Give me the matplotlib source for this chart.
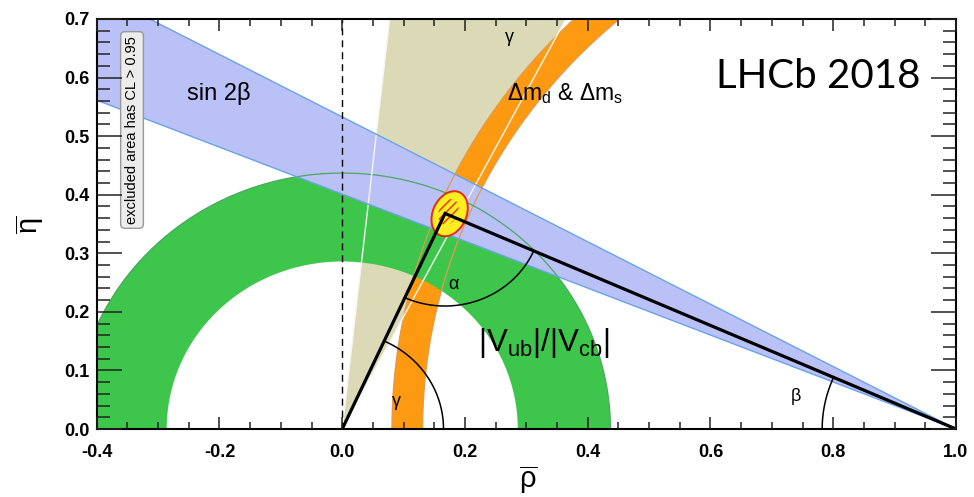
import numpy as np
import matplotlib
matplotlib.use("Agg")
import matplotlib.pyplot as plt
from matplotlib.patches import Wedge, Ellipse
from matplotlib.ticker import FixedLocator, FixedFormatter, MultipleLocator

plt.rcParams["font.family"] = ["Liberation Sans", "DejaVu Sans"]
plt.rcParams["hatch.linewidth"] = 1.1

# --- CKM constraints (95% CL) in the (rho-bar, eta-bar) plane ---
apex = (0.1675, 0.368)              # unitarity triangle apex from the global fit
sin2beta_deg = [21.85, 28.05]       # beta range, angle seen from (1, 0)
gamma_deg = [62.5, 83.7]            # gamma range, angle seen from (0, 0)
dm_center = 1.055                   # centre of the Delta m_d & Delta m_s ring on the rho axis
dm_radius = [0.924, 0.974]          # ring radii
vub_radius = [0.286, 0.437]         # R_u band from |Vub|/|Vcb|, about (0, 0)

fit_center = (0.175, 0.3675)
fit_95 = (0.080, 0.055)             # full axes of the 95% CL region
fit_68 = (0.046, 0.031)             # full axes of the 68% CL region
fit_tilt = 68.0

arc_radius = {"gamma": 0.165, "alpha": 0.158, "beta": 0.218}

x_ticks = [-0.4, -0.2, 0.0, 0.2, 0.4, 0.6, 0.8, 1.0]
x_tick_labels = ["-0.4", "-0.2", "0.0", "0.2", "0.4", "0.6", "0.8", "1.0"]
y_ticks = [0.0, 0.1, 0.2, 0.3, 0.4, 0.5, 0.6, 0.7]
y_tick_labels = ["0.0", "0.1", "0.2", "0.3", "0.4", "0.5", "0.6", "0.7"]

BLUE = "#bac1f7"
BLUE_EDGE = "#6aa3e8"
BEIGE = "#dcd9b6"
ORANGE = "#fd9a12"
ORANGE_EDGE = "#e39a4a"
GREEN = "#3ec64c"
GREEN_EDGE = "#4aa860"
GAMMA_EDGE = "#f6f6f0"

fig = plt.figure(figsize=(9.74, 4.97), dpi=100)
ax = fig.add_axes([0.0993, 0.1368, 0.8822, 0.825])
ax.set_xlim(-0.4, 1.0)
ax.set_ylim(0.0, 0.7)

# filled constraint regions
ax.add_patch(Wedge((0, 0), 2.0, gamma_deg[0], gamma_deg[1],
                   facecolor=BEIGE, edgecolor="none", zorder=1.0))
ax.add_patch(Wedge((dm_center, 0), dm_radius[1], 90, 180, width=dm_radius[1] - dm_radius[0],
                   facecolor=ORANGE, edgecolor="none", zorder=1.1))
ax.add_patch(Wedge((0, 0), vub_radius[1], 0, 180, width=vub_radius[1] - vub_radius[0],
                   facecolor=GREEN, edgecolor="none", zorder=1.2))
ax.add_patch(Wedge((1, 0), 3.0, 180 - sin2beta_deg[1], 180 - sin2beta_deg[0],
                   facecolor=BLUE, edgecolor="none", zorder=1.3))

# region outlines
th = np.linspace(0, np.pi, 600)
for r in dm_radius:
    m = th >= np.pi / 2
    ax.plot(dm_center + r * np.cos(th[m]), r * np.sin(th[m]), color=ORANGE_EDGE, lw=0.9, zorder=1.5)
ax.plot(vub_radius[1] * np.cos(th), vub_radius[1] * np.sin(th), color=GREEN_EDGE, lw=0.9, zorder=1.5)
for a in gamma_deg:
    t = np.radians(a)
    ax.plot([0, 2 * np.cos(t)], [0, 2 * np.sin(t)], color=GAMMA_EDGE, lw=1.0, zorder=1.6)
for a in sin2beta_deg:
    t = np.radians(a)
    ax.plot([1, 1 - 3 * np.cos(t)], [0, 3 * np.sin(t)], color=BLUE_EDGE, lw=1.0, zorder=1.7)

# rho = 0 reference line
ax.plot([0, 0], [0, 0.7], color="black", lw=1.0, dashes=(5, 3.6), zorder=2.0)

# global fit region
ax.add_patch(Ellipse(fit_center, fit_95[0], fit_95[1], angle=fit_tilt,
                     facecolor="#ffee22", edgecolor="#e52a18", lw=1.4, zorder=3.0))
ax.add_patch(Ellipse((fit_center[0] - 0.002, fit_center[1] + 0.003), fit_68[0], fit_68[1],
                     angle=fit_tilt, fill=False, hatch="////", edgecolor="#e2401c",
                     lw=0, zorder=3.1))

# unitarity triangle
ax.plot([0, apex[0], 1], [0, apex[1], 0], color="black", lw=2.3,
        solid_joinstyle="miter", zorder=4.0)

# angle arcs
ang_g = np.arctan2(apex[1], apex[0])
ang_b = np.arctan2(apex[1], 1 - apex[0])
t = np.linspace(0, ang_g, 100)
ax.plot(arc_radius["gamma"] * np.cos(t), arc_radius["gamma"] * np.sin(t), color="black", lw=1.1, zorder=4.0)
t = np.linspace(np.pi + ang_g, 2 * np.pi - ang_b, 100)
ax.plot(apex[0] + arc_radius["alpha"] * np.cos(t), apex[1] + arc_radius["alpha"] * np.sin(t),
        color="black", lw=1.1, zorder=4.0)
t = np.linspace(np.pi - ang_b, np.pi, 100)
ax.plot(1 + arc_radius["beta"] * np.cos(t), arc_radius["beta"] * np.sin(t), color="black", lw=1.1, zorder=4.0)

# labels inside the plot
ax.text(-0.2535, 0.572, "sin 2β", fontsize=17, ha="left", va="center", zorder=5)
ax.text(0.273, 0.668, "γ", fontsize=13, ha="center", va="center", zorder=5)
ax.text(0.268, 0.572, r"Δm$_\mathregular{d}$ & Δm$_\mathregular{s}$", fontsize=16.5,
        ha="left", va="center", zorder=5)
ax.text(0.221, 0.147, r"|V$_\mathregular{ub}$|/|V$_\mathregular{cb}$|", fontsize=22.5,
        ha="left", va="center", zorder=5)
ax.text(0.181, 0.246, "α", fontsize=13, ha="center", va="center", zorder=5)
ax.text(0.0888, 0.0466, "γ", fontsize=13, ha="center", va="center", zorder=5)
ax.text(0.740, 0.055, "β", fontsize=13, ha="center", va="center", zorder=5)
ax.text(0.609, 0.601, "LHCb 2018", fontsize=29, family=["Lato", "DejaVu Sans"],
        ha="left", va="center", zorder=5)
ax.text(-0.3425, 0.5105, "excluded area has CL > 0.95", fontsize=10.5, rotation=90,
        ha="center", va="center", zorder=6,
        bbox=dict(boxstyle="round,pad=0.3", facecolor="#ececec", edgecolor="#999999", lw=1.0))

# axes styling
ax.xaxis.set_major_locator(FixedLocator(x_ticks))
ax.xaxis.set_major_formatter(FixedFormatter(x_tick_labels))
ax.xaxis.set_minor_locator(MultipleLocator(0.05))
ax.yaxis.set_major_locator(FixedLocator(y_ticks))
ax.yaxis.set_major_formatter(FixedFormatter(y_tick_labels))
ax.yaxis.set_minor_locator(MultipleLocator(0.02))
ax.tick_params(which="both", direction="in", top=True, right=True, width=1.1, color="#222222")
ax.tick_params(axis="x", which="major", length=8.6, pad=11)
ax.tick_params(axis="x", which="minor", length=4.7)
ax.tick_params(axis="y", which="major", length=18, pad=5)
ax.tick_params(axis="y", which="minor", length=9.4)
for lab in ax.get_xticklabels() + ax.get_yticklabels():
    lab.set_fontweight("bold")
    lab.set_fontsize(13)
for s in ax.spines.values():
    s.set_linewidth(1.5)
    s.set_zorder(10)
ax.xaxis.set_zorder(10)
ax.yaxis.set_zorder(10)

fig.text(528 / 974, 1 - 480 / 497, r"$\overline{\mathregular{ρ}}$", fontsize=21,
         ha="center", va="center")
fig.text(30 / 974, 1 - 225 / 497, r"$\overline{\mathregular{η}}$", fontsize=21,
         rotation=90, ha="center", va="center")

fig.savefig("out.png", dpi=100)
